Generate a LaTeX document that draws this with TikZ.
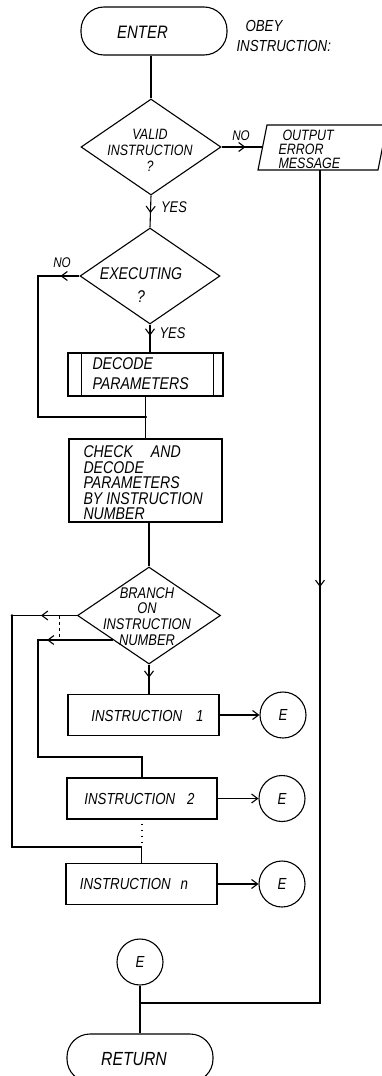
\documentclass[tikz,border=0pt]{standalone}
\usepackage{fontspec}
\setmainfont{Liberation Sans}[FakeStretch=0.83]
\usetikzlibrary{shapes.geometric,arrows.meta,decorations.markings}
\begin{document}
\begin{tikzpicture}[x=1pt,y=-1pt,line width=1.1pt,
  fs/.style 2 args={font=\itshape\fontsize{#1}{#2}\selectfont},
  box/.style={draw,rectangle,inner sep=0pt},
  term/.style={draw,rectangle,rounded corners=23pt,inner sep=0pt},
  dia/.style={draw,diamond,inner sep=0pt},
  conn/.style={draw,circle,inner sep=0pt,minimum size=46pt,fs={16}{16}},
  txt/.style={inner sep=0pt},
  lab/.style={inner sep=0pt},
  barb/.style={-{Straight Barb[length=6pt,width=9pt]}},
  arr/.style={postaction={decorate,decoration={markings,
      mark=at position #1 with {\arrow{Straight Barb[length=6pt,width=9pt]}}}}}]
\useasboundingbox (0,0) rectangle (382,1076);

% ---- shapes
\node[term,minimum width=146pt,minimum height=48pt] (enter) at (154,31) {};
\node[txt,fs={18}{18}] (entert) at (142.5,32.5) {ENTER};
\node[txt,anchor=west,align=left,fs={16}{20}] (obey) at (236,36) {\hspace{9pt}OBEY\\INSTRUCTION:};

\node[dia,minimum width=140pt,minimum height=96pt] (valid) at (151,147) {};
\node[txt,align=center,fs={15}{16}] (validt) at (150,150) {VALID\\INSTRUCTION\\?};

\coordinate (e1) at (267,125);
\coordinate (e2) at (387,125);
\coordinate (e3) at (378,170);
\coordinate (e4) at (258,170);
\draw (e1) -- (e2) -- (e3) -- (e4) -- cycle;
\coordinate (errW) at (262.5,147);
\coordinate (errS) at (320,170);
\node[txt,anchor=west,align=left,fs={15}{14}] (errt) at (278,149) {\hspace{4pt}OUTPUT\\ERROR\\MESSAGE};

\node[dia,minimum width=140pt,minimum height=96pt] (exec) at (150,276) {};
\node[txt,align=center,fs={17}{23}] (exect) at (141,285) {EXECUTING\\?};

\node[box,minimum width=155pt,minimum height=43pt] (dec) at (145.5,374.5) {};
\draw ([xshift=14pt]dec.north west) -- ([xshift=14pt]dec.south west);
\draw ([xshift=-10pt]dec.north east) -- ([xshift=-10pt]dec.south east);
\node[txt,anchor=west,align=left,fs={17}{20}] (dect) at (92,373.5) {DECODE\\PARAMETERS};

\node[box,minimum width=153pt,minimum height=83pt] (check) at (145.5,480.5) {};
\node[txt,anchor=west,align=left,fs={17}{15.5}] (checkt) at (83,483)
  {CHECK\hspace{18pt}AND\\DECODE\\PARAMETERS\\BY INSTRUCTION\\NUMBER};

\node[dia,minimum width=143pt,minimum height=97pt] (branch) at (149,615.5) {};
\node[txt,align=center,fs={15.5}{15.7}] (brancht) at (147,616.5) {BRANCH\\ON\\INSTRUCTION\\NUMBER};

\node[box,minimum width=151pt,minimum height=41pt] (inst1) at (143.5,715) {};
\node[txt,fs={16}{16}] (i1t) at (147.5,715.5) {INSTRUCTION\hspace{14pt}1};
\node[box,minimum width=150pt,minimum height=41pt] (inst2) at (142,798.5) {};
\node[txt,fs={16}{16}] (i2t) at (139.5,799) {INSTRUCTION\hspace{12pt}2};
\node[box,minimum width=151pt,minimum height=41pt] (instn) at (141.5,884) {};
\node[txt,fs={16}{16}] (int) at (134,883.5) {INSTRUCTION\hspace{10pt}n};

\node[conn] (E1) at (283,715) {E};
\node[conn] (E2) at (282,798.5) {E};
\node[conn] (E3) at (282,884) {E};
\node[conn] (E4) at (140,962) {E};

\node[term,minimum width=146pt,minimum height=48pt] (ret) at (140,1058) {};
\node[txt,fs={19}{19}] (rett) at (134,1059) {RETURN};

% ---- labels
\node[lab,fs={14}{14}] (no1) at (241,136) {NO};
\node[lab,fs={15.5}{15.5}] (yes1) at (174,207.5) {YES};
\node[lab,fs={14}{14}] (no2) at (62,262.5) {NO};
\node[lab,fs={15.5}{15.5}] (yes2) at (172.5,333.5) {YES};

% ---- helper coordinates
\coordinate (jn) at (145.5,417);
\coordinate (lA) at (38,417);
\coordinate (lB) at (12,847);
\coordinate (lC) at (38,757);
\coordinate (dA) at (59,0);
\coordinate (rj) at (140,1003);

% ---- connectors
\draw (enter.south -| valid.north) -- (valid.north);
\draw[arr=24pt] (valid.east) -- (errW);
\draw[arr=0.55] (valid.south) -- (exec.north);
\draw[arr=0.4] (exec.south) -- (exec.south |- dec.north);
\draw[arr=19pt] (exec.west) -| (lA) -- (jn);
\draw (dec.south) -- (check.north);
\fill (jn) circle (1.6pt);
\draw (check.south -| branch.north) -- (branch.north);
\draw[arr=0.45] (branch.south) -- (branch.south |- inst1.north);
\draw[arr=36pt] (branch.west) -| (lB) -| (instn.north);
\fill (branch.west -| lB) circle (1.4pt);
\draw[arr=66pt] (branch.south west) -| (lC) -| (inst2.north);
\draw[dashed,line width=0.9pt] (branch.west -| dA) -- (branch.south west -| dA);
\draw[line width=1.2pt,dash pattern=on 1.2pt off 5pt] ([yshift=-4pt]inst2.south) -- ([yshift=-26pt]inst2.south);
\draw[barb] (inst1) -- (E1);
\draw[barb] (inst2) -- (E2);
\draw[barb] (instn) -- (E3);
\draw[arr=417pt] (errS) |- (rj);
\draw (E4) -- (ret);
\end{tikzpicture}
\end{document}
